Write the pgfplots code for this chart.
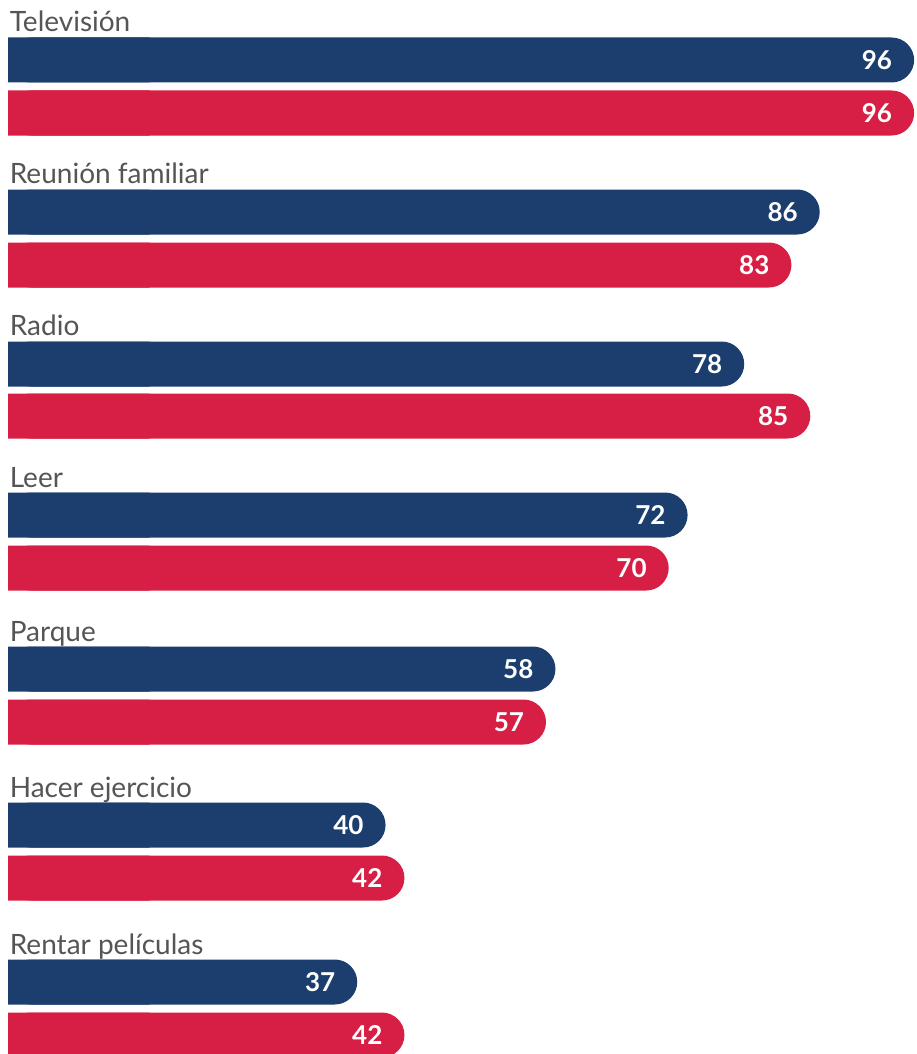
\documentclass[border=0pt]{standalone}
\usepackage{pgfplots}
\pgfplotsset{compat=1.18}
\usepackage{fontspec}
\setmainfont{Lato}
\definecolor{cblue}{HTML}{1B3E6F}
\definecolor{cred}{HTML}{D71E44}
\definecolor{ctext}{HTML}{555555}
\begin{document}
\begin{tikzpicture}
\begin{axis}[
  width=458pt, height=527pt, scale only axis,
  hide axis,
  xmin=-0.85, xmax=96.2,
  ymin=0, ymax=1054, y dir=reverse,
  enlargelimits=false,
  xbar, bar width=45, bar shift=0pt,
  point meta=x,
  clip=true,
  /pgf/number format/assume math mode=true,
  numlabel/.style={nodes near coords, nodes near coords style={anchor=east, xshift=-7.5pt, text=white, font=\bfseries\fontsize{13}{15}\selectfont}},
]
% main bars (rounded ends)
\addplot[fill=cblue, draw=none, rounded corners=11.25pt, numlabel] coordinates {(96,60) (86,212) (78,364) (72,515) (58,669) (40,825) (37,982)};
\addplot[fill=cred, draw=none, rounded corners=11.25pt, numlabel] coordinates {(96,113) (83,265) (85,416) (70,568) (57,722) (42,878) (42,1035)};
% square left ends
\addplot[fill=cblue, draw=none] coordinates {(15,60) (15,212) (15,364) (15,515) (15,669) (15,825) (15,982)};
\addplot[fill=cred, draw=none] coordinates {(15,113) (15,265) (15,416) (15,568) (15,722) (15,878) (15,1035)};
\begin{scope}[every node/.style={anchor=base west, text=ctext, inner sep=0pt, font=\fontsize{14}{16}\selectfont}]
\node at (axis cs:0.15,32) {Televisión};
\node at (axis cs:0.15,184) {Reunión familiar};
\node at (axis cs:0.15,335) {Radio};
\node at (axis cs:0.15,487) {Leer};
\node at (axis cs:0.15,641) {Parque};
\node at (axis cs:0.15,797) {Hacer ejercicio};
\node at (axis cs:0.15,954) {Rentar películas};
\end{scope}
\end{axis}
\pgfresetboundingbox
\path[use as bounding box] (current axis.south west) rectangle (current axis.north east);
\end{tikzpicture}
\end{document}
